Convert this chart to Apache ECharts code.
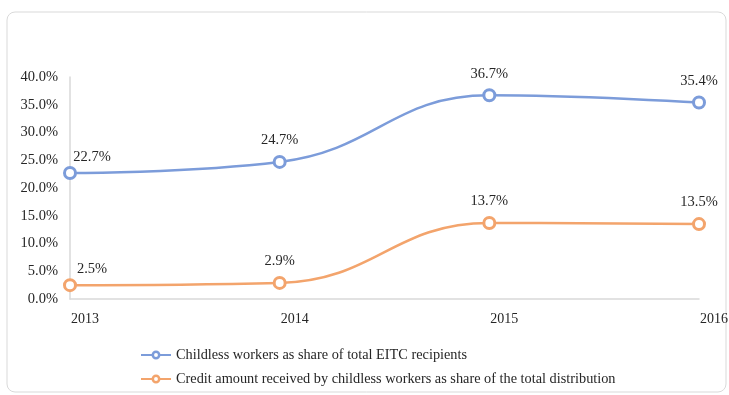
<!DOCTYPE html>
<html><head><meta charset="utf-8">
<script src="https://cdn.jsdelivr.net/npm/echarts@6/dist/echarts.min.js"></script>
<style>html,body{margin:0;padding:0;background:#fff}#c{width:729px;height:395px}</style>
</head><body><div id="c"></div>
<script>
const years = ['2013', '2014', '2015', '2016'];
const childlessShare = [22.7, 24.7, 36.7, 35.4];
const creditShare = [2.5, 2.9, 13.7, 13.5];
const seriesNames = ['Childless workers as share of total EITC recipients',
  'Credit amount received by childless workers as share of the total distribution'];
const font = '"Liberation Serif", "Times New Roman", serif';
const blue = '#7C9CDA', orange = '#F3A46C';
const txt = '#262626';
function mkData(vals) {
  return vals.map((v, i) => i === 0 ? {value: v, label: {offset: [22, 6]}} : v);
}
function mkSeries(name, vals, color) {
  return {name: name, type: 'line', smooth: 0.45, data: mkData(vals),
    symbol: 'circle', symbolSize: 11,
    lineStyle: {color: color, width: 2.5},
    itemStyle: {color: '#fff', borderColor: color, borderWidth: 3},
    label: {show: true, position: 'top', distance: 7, fontFamily: font, fontSize: 14.5, color: txt,
      formatter: p => p.value.toFixed(1) + '%'}};
}
const chart = echarts.init(document.getElementById('c'));
chart.setOption({
  animation: false,
  graphic: [{type: 'rect', shape: {x: 7, y: 12, width: 719, height: 380, r: 8},
    style: {fill: 'none', stroke: '#d9d9d9', lineWidth: 1}, silent: true}],
  grid: {left: 70, right: 30, top: 77, bottom: 96, containLabel: false, outerBoundsMode: 'none'},
  legend: {orient: 'vertical', left: 135, top: 343, itemGap: 10, itemWidth: 30, itemHeight: 8,
    textStyle: {fontFamily: font, fontSize: 14.3, color: txt},
    data: [
      {name: seriesNames[0], itemStyle: {color: '#fff', borderColor: blue, borderWidth: 2.5}},
      {name: seriesNames[1], itemStyle: {color: '#fff', borderColor: orange, borderWidth: 2.5}}
    ]},
  xAxis: {type: 'category', data: years, boundaryGap: false,
    axisLine: {lineStyle: {color: '#d9d9d9', width: 1.5}}, axisTick: {show: false},
    axisLabel: {fontFamily: font, fontSize: 14, color: txt, margin: 13, align: 'left', padding: [0, 0, 0, 1]}},
  yAxis: {type: 'value', min: 0, max: 40, interval: 5,
    axisLine: {show: true, lineStyle: {color: '#d9d9d9', width: 1.5}}, splitLine: {show: false},
    axisLabel: {fontFamily: font, fontSize: 14.5, color: txt, margin: 12,
      formatter: v => v.toFixed(1) + '%'}},
  series: [
    mkSeries(seriesNames[0], childlessShare, blue),
    mkSeries(seriesNames[1], creditShare, orange)
  ]
});
</script></body></html>
